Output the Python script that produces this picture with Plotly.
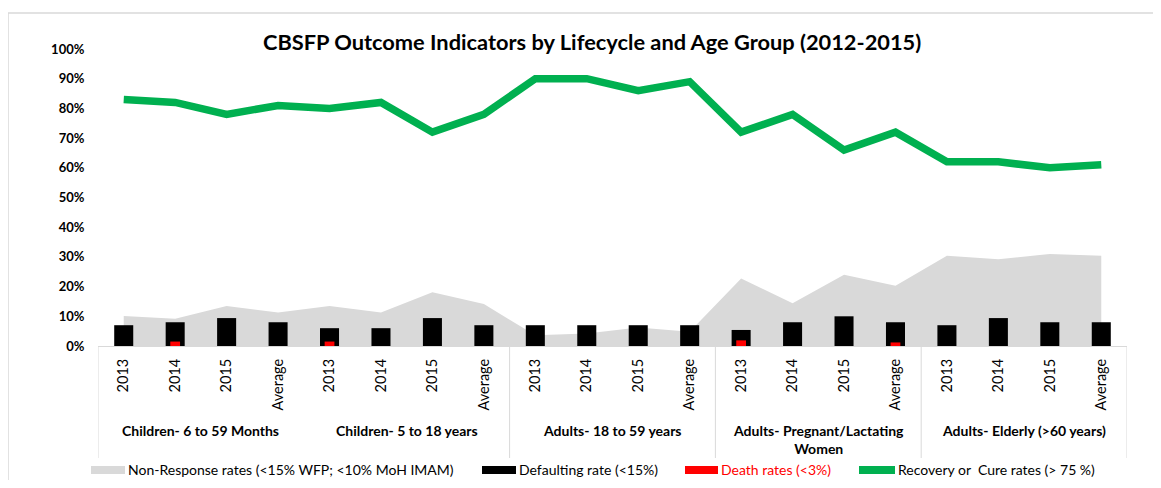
import plotly.graph_objects as go

# ---------------- data ----------------
groups = ["Children- 6 to 59 Months", "Children- 5 to 18 years", "Adults- 18 to 59 years",
          "Adults- Pregnant/Lactating<br>Women", "Adults- Elderly (>60 years)"]
periods = ["2013", "2014", "2015", "Average"]
tick_labels = periods * len(groups)

non_response = [10.1, 9.2, 13.5, 11.3, 13.5, 11.3, 18.1, 14.1,
                3.6, 4.2, 6.2, 4.8, 22.7, 14.4, 24.0, 20.3,
                30.4, 29.2, 31.0, 30.4]
defaulting = [7, 8, 9.4, 8, 6, 6, 9.4, 7,
              7, 7, 7, 7, 5.4, 8, 10, 8,
              7, 9.4, 8, 8]
death = [0, 1.5, 0, 0, 1.5, 0, 0, 0,
         0, 0, 0, 0, 1.9, 0, 0, 1.2,
         0, 0, 0, 0]
recovery = [83, 82, 78, 81, 80, 82, 72, 78,
            90, 90, 86, 89, 72, 78, 66, 72,
            62, 62, 60, 61]

legend_labels = ["Non-Response rates (<15% WFP; <10% MoH IMAM)", "Defaulting rate (<15%)",
                 "Death rates (<3%)", "Recovery or  Cure rates (> 75 %)"]
title_text = "CBSFP Outcome Indicators by Lifecycle and Age Group (2012-2015)"

# ---------------- styles ----------------
GREY = "#D9D9D9"
BLACK = "#000000"
RED = "#FF0000"
GREEN = "#00B050"
FONT = "Lato"

x = list(range(len(tick_labels)))
to_frac = lambda v: [a / 100 for a in v]

fig = go.Figure()
# area on base axes (drawn below), bars + line on overlaying axes (drawn above)
fig.add_trace(go.Scatter(x=x, y=to_frac(non_response), mode="none", fill="tozeroy",
                         fillcolor=GREY, name=legend_labels[0], hoverinfo="y"))
fig.add_trace(go.Bar(x=x, y=to_frac(defaulting), width=0.37, marker_color=BLACK,
                     marker_line_width=0, name=legend_labels[1], yaxis="y2"))
fig.add_trace(go.Bar(x=x, y=to_frac(death), width=0.19, marker_color=RED,
                     marker_line_width=0, name=legend_labels[2], yaxis="y2"))
fig.add_trace(go.Scatter(x=x, y=to_frac(recovery), mode="lines",
                         line=dict(color=GREEN, width=7.5), name=legend_labels[3], yaxis="y2"))

OFF = 8  # browser body margin
W, H = 1161 - 2 * OFF, 488 - 2 * OFF
# plot area in reference pixel coordinates: x 98..1127, y 49..346
L = 98 - OFF
T = 49 - OFF
R = W - (1127 - OFF)
B = H - (346 - OFF)
pw, ph = W - L - R, H - T - B


def px(xr):
    return (xr - 98) / pw


def py(yr):
    return (346 - yr) / ph


shapes = []
# chart border (top & left)
shapes.append(dict(type="line", xref="paper", yref="paper", x0=px(8), x1=px(1161), y0=py(13), y1=py(13),
                   line=dict(color=GREY, width=1.5)))
shapes.append(dict(type="line", xref="paper", yref="paper", x0=px(8), x1=px(8), y0=py(13), y1=py(490),
                   line=dict(color=GREY, width=1.5)))
# category group dividers
for xv in [-0.5, 7.5, 11.5, 15.5, 19.5]:
    shapes.append(dict(type="line", xref="x", yref="paper", x0=xv, x1=xv, y0=0, y1=py(458),
                       line=dict(color=GREY, width=1)))

annotations = []
for i, g in enumerate(groups):
    annotations.append(dict(x=i * 4 + 1.5, y=py(420), xref="x", yref="paper", text=g, showarrow=False,
                            xanchor="center", yanchor="top",
                            font=dict(family=FONT, size=14, color="black", weight="bold")))

# legend (custom, drawn at the bottom)
leg = [(91, 125, GREY, "black"), (482, 516, BLACK, "black"), (685, 718, RED, RED), (859, 895, GREEN, "black")]
for (x0, x1, col, tcol), lab in zip(leg, legend_labels):
    shapes.append(dict(type="rect", xref="paper", yref="paper", x0=px(x0), x1=px(x1),
                       y0=py(474), y1=py(466), fillcolor=col, line=dict(width=0)))
    annotations.append(dict(x=px(x1 + 1), y=py(470), xref="paper", yref="paper", text=lab, showarrow=False,
                            xanchor="left", yanchor="middle",
                            font=dict(family=FONT, size=14, color=tcol)))

fig.update_layout(
    width=W, height=H,
    margin=dict(l=L, r=R, t=T, b=B, autoexpand=False),
    paper_bgcolor="white", plot_bgcolor="white",
    barmode="overlay", showlegend=False,
    title=dict(text=title_text, xref="container", x=(263 - OFF) / W, xanchor="left",
               yref="container", y=1 - (42.5 - OFF) / H, yanchor="middle",
               font=dict(family=FONT, size=21.8, color="black", weight="bold")),
    shapes=shapes, annotations=annotations,
    font=dict(family=FONT, color="black"),
    xaxis=dict(range=[-0.5, 19.5], tickmode="array", tickvals=x, ticktext=tick_labels,
               tickangle=-90, tickfont=dict(family=FONT, size=14.5, color="black"),
               showgrid=False, zeroline=False, showline=True, linecolor=GREY, linewidth=1,
               ticks="outside", ticklen=6, tickcolor="rgba(0,0,0,0)"),
    yaxis=dict(range=[0, 1], tickmode="array", tickvals=[i / 10 for i in range(11)], tickformat=".0%",
               tickfont=dict(family=FONT, size=13, color="black", weight="bold"),
               showgrid=False, zeroline=False, showline=False,
               ticks="outside", ticklen=10, tickcolor="rgba(0,0,0,0)"),
    yaxis2=dict(overlaying="y", range=[0, 1], visible=False),
)

fig.write_html("out.html")
